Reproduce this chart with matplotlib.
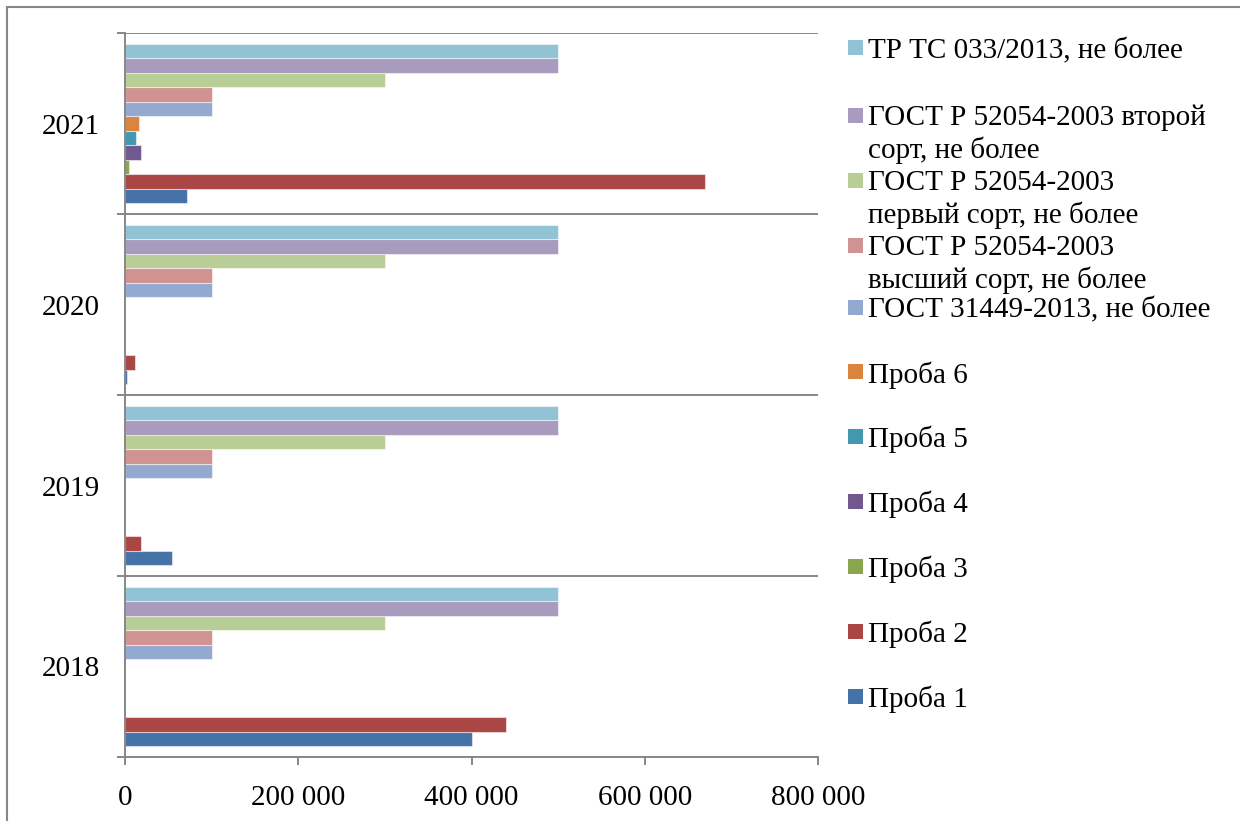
import matplotlib.pyplot as plt
import numpy as np
from matplotlib.patches import Rectangle
from matplotlib.ticker import FuncFormatter, MultipleLocator

plt.rcParams['font.family'] = ['Liberation Serif', 'DejaVu Serif']

years = ['2018', '2019', '2020', '2021']

# series from bottom of each group to top
series_names = [
    'Проба 1',
    'Проба 2',
    'Проба 3',
    'Проба 4',
    'Проба 5',
    'Проба 6',
    'ГОСТ 31449-2013, не более',
    'ГОСТ Р 52054-2003\nвысший сорт, не более',
    'ГОСТ Р 52054-2003\nпервый сорт, не более',
    'ГОСТ Р 52054-2003 второй\nсорт, не более',
    'ТР ТС 033/2013, не более',
]

proba_1 = [400000, 54000, 2500, 71000]
proba_2 = [440000, 18000, 11000, 670000]
proba_3 = [0, 0, 0, 5000]
proba_4 = [0, 0, 0, 19000]
proba_5 = [0, 0, 0, 13000]
proba_6 = [0, 0, 0, 16500]
gost_31449 = [100000, 100000, 100000, 100000]
gost_vysshiy = [100000, 100000, 100000, 100000]
gost_perviy = [300000, 300000, 300000, 300000]
gost_vtoroy = [500000, 500000, 500000, 500000]
tr_ts = [500000, 500000, 500000, 500000]

series_values = [proba_1, proba_2, proba_3, proba_4, proba_5, proba_6,
                 gost_31449, gost_vysshiy, gost_perviy, gost_vtoroy, tr_ts]

colors = ['#4572A7', '#AA4643', '#89A54E', '#71588F', '#4198AF', '#DB843D',
          '#93A9CF', '#D19392', '#B9CD96', '#A99BBD', '#92C3D4']

W, H = 1240, 821
grid_color = '#878787'
fs = 21

fig = plt.figure(figsize=(W / 100, H / 100), dpi=100)
ax = fig.add_axes([125 / W, 1 - 757 / H, (818 - 125) / W, (757 - 33) / H])

n = len(series_names)
bar_h = 1 / (n + 1.5)
y = np.arange(len(years))
for i, (vals, c) in enumerate(zip(series_values, colors)):
    offs = (i - (n - 1) / 2) * bar_h
    ax.barh(y + offs, vals, height=bar_h, color=c,
            edgecolor=(1, 1, 1, 0.5), linewidth=0.8, zorder=3)

ax.set_xlim(0, 800000)
ax.set_ylim(-0.5, len(years) - 0.5)

ax.xaxis.set_major_locator(MultipleLocator(200000))
ax.xaxis.set_major_formatter(FuncFormatter(lambda v, p: f'{int(v):,}'.replace(',', ' ')))
ax.set_yticks(y)
ax.set_yticklabels(years)
ax.set_yticks(np.arange(len(years) + 1) - 0.5, minor=True)

ax.tick_params(axis='y', which='major', length=0, pad=18, labelsize=fs)
ax.tick_params(axis='y', which='minor', length=6, width=1.4, color=grid_color)
ax.tick_params(axis='x', which='major', length=6, width=1.4, color=grid_color,
               labelsize=fs, pad=14)

ax.grid(True, axis='y', which='minor', color=grid_color, linewidth=1.4, zorder=1)
for side in ['top', 'right']:
    ax.spines[side].set_visible(False)
for side in ['left', 'bottom']:
    ax.spines[side].set_color(grid_color)
    ax.spines[side].set_linewidth(1.4)
    ax.spines[side].set_zorder(4)

# legend, drawn entry by entry from the top
leg_top = 48
leg_step = 64.8
line_gap = 32
for k, i in enumerate(range(n - 1, -1, -1)):
    yc = leg_top + k * leg_step
    nl = series_names[i].count('\n')
    if nl:
        yc += 3
    fig.add_artist(Rectangle((848 / W, 1 - (yc + 7.5) / H), 15 / W, 15 / H,
                             transform=fig.transFigure, color=colors[i], lw=0))
    # baseline alignment follows the last line, so push multi-line labels down
    fig.text(868 / W, 1 - (yc + 10.5 + nl * line_gap) / H, series_names[i],
             fontsize=fs, va='baseline', ha='left', linespacing=1.25)

# chart frame
fig.add_artist(Rectangle((7 / W, -0.05), 1.1, 1 - 7 / H + 0.05,
                         transform=fig.transFigure, fill=False,
                         edgecolor=grid_color, linewidth=1.5))

fig.savefig('out.png', dpi=100, facecolor='white')
